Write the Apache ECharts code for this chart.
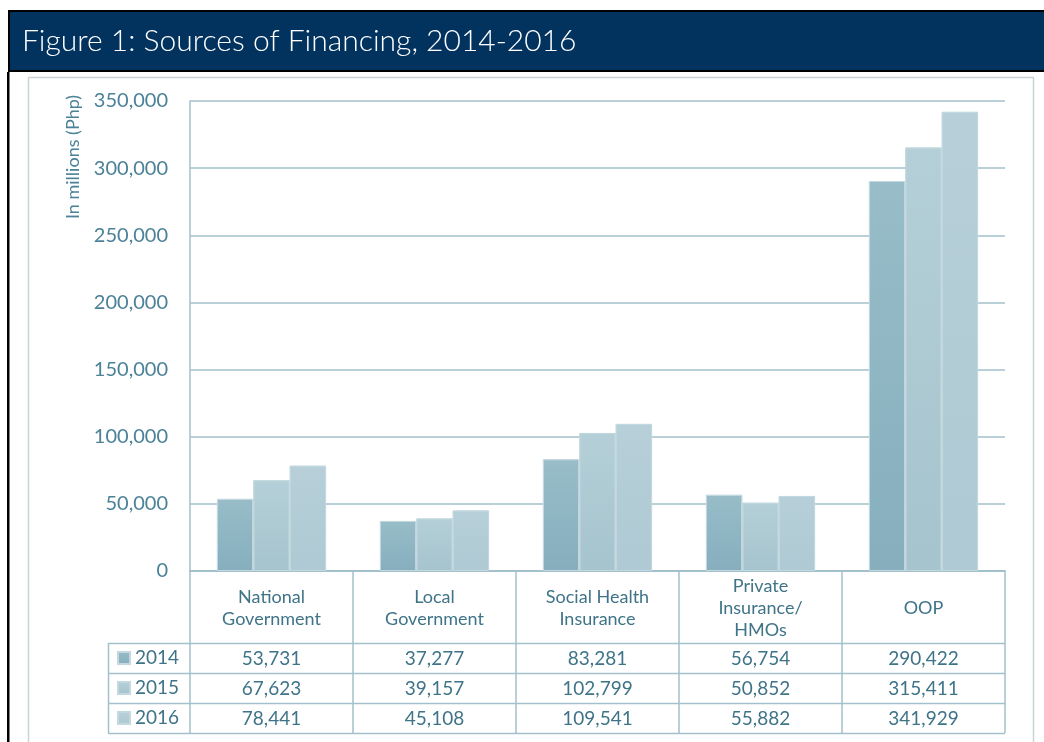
<!DOCTYPE html>
<html>
<head>
<meta charset="utf-8">
<title>Figure 1: Sources of Financing, 2014-2016</title>
<script src="https://cdn.jsdelivr.net/npm/echarts@6/dist/echarts.min.js"></script>
<style>
  html, body { margin: 0; padding: 0; background: #fff; }
  #chart { width: 1044px; height: 742px; }
</style>
</head>
<body>
<div id="chart"></div>
<script>
// data
const categories = ['National\nGovernment', 'Local\nGovernment', 'Social Health\nInsurance', 'Private\nInsurance/\nHMOs', 'OOP']
const years = ['2014', '2015', '2016']
const v2014 = [53731, 37277, 83281, 56754, 290422]
const v2015 = [67623, 39157, 102799, 50852, 315411]
const v2016 = [78441, 45108, 109541, 55882, 341929]
const yMax = 350000
const yStep = 50000

const FONT = 'Lato, "Noto Sans", sans-serif'
const TEAL = '#3f7488'
const LINE = '#a3c1cc'

const grad = (top, bottom) => new echarts.graphic.LinearGradient(0, 0, 0, 1, [
  { offset: 0, color: top },
  { offset: 1, color: bottom }
])
const colors = [
  grad('#98bdc9', '#86aebd'),
  grad('#b4cfd7', '#a6c4ce'),
  grad('#b6cfd8', '#afcad4')
]
const seriesData = [v2014, v2015, v2016]

const fmt = v => v.toLocaleString('en-US')

const chart = echarts.init(document.getElementById('chart'))

const option = {
  animation: false,
  textStyle: { fontFamily: FONT },
  grid: { left: 190, right: 39, top: 101, bottom: 171 },
  legend: {
    orient: 'vertical',
    left: 117,
    top: 643,
    height: 92,
    padding: 0,
    itemGap: 0,
    itemWidth: 12,
    itemHeight: 12,
    icon: 'rect',
    selectedMode: false,
    data: years,
    textStyle: { color: TEAL, fontSize: 19, lineHeight: 30, fontFamily: FONT }
  },
  xAxis: {
    type: 'category',
    data: categories,
    axisLine: { lineStyle: { color: LINE, width: 2 } },
    axisTick: { show: true, interval: 0, length: 162, lineStyle: { color: LINE, width: 1.5 } },
    axisLabel: {
      interval: 0,
      color: TEAL,
      fontSize: 18,
      lineHeight: 22,
      margin: 37,
      verticalAlign: 'middle',
      fontFamily: FONT
    },
    splitLine: { show: false }
  },
  yAxis: {
    type: 'value',
    min: 0,
    max: yMax,
    interval: yStep,
    axisLine: { show: true, lineStyle: { color: LINE, width: 1.5 } },
    axisTick: { show: false },
    axisLabel: { color: '#4b8298', fontSize: 20, margin: 22, formatter: v => fmt(v), fontFamily: FONT },
    splitLine: { lineStyle: { color: LINE, width: 1.5 } }
  },
  series: years.map((y, i) => ({
    name: y,
    type: 'bar',
    data: seriesData[i],
    barGap: '0%',
    barCategoryGap: '33%',
    itemStyle: { color: colors[i], borderColor: '#c3d8df', borderWidth: 1 }
  }))
}

chart.setOption(option)

// frame, header and data table
const rowTops = [643, 673, 703, 733]
const tableLeft = 108, tableRight = 1005
const g = []

g.push({ type: 'rect', shape: { x: 8, y: 10, width: 1036, height: 62 }, style: { fill: '#000' }, z: 10 })
g.push({ type: 'rect', shape: { x: 10, y: 12, width: 1034, height: 58 }, style: { fill: '#02335f' }, z: 11 })
g.push({ type: 'rect', shape: { x: 7, y: 72, width: 2.5, height: 670 }, style: { fill: '#000' }, z: 10 })
g.push({ type: 'text', x: 22, y: 41, style: { text: 'Figure 1: Sources of Financing, 2014-2016', fill: '#fff', fontSize: 30, fontWeight: 300, fontFamily: FONT, verticalAlign: 'middle' }, z: 12 })
// inner frame
g.push({ type: 'polyline', shape: { points: [[28.5, 742], [28.5, 77.5], [1033.5, 77.5], [1033.5, 742]] }, style: { stroke: '#c9d4d8', fill: null, lineWidth: 1.5 }, z: 5 })

g.push({ type: 'text', x: 73, y: 157, rotation: Math.PI / 2, style: { text: 'In millions (Php)', fill: '#4b8298', fontSize: 18, fontFamily: FONT, align: 'center', verticalAlign: 'middle' } })

rowTops.forEach(y => {
  g.push({ type: 'line', shape: { x1: tableLeft, y1: y + 0.5, x2: tableRight, y2: y + 0.5 }, style: { stroke: LINE, lineWidth: 1.5 } })
})
g.push({ type: 'line', shape: { x1: tableLeft + 0.5, y1: rowTops[0], x2: tableLeft + 0.5, y2: rowTops[3] }, style: { stroke: LINE, lineWidth: 1.5 } })

seriesData.forEach((vals, r) => {
  const cy = rowTops[r] + 16
  vals.forEach((v, c) => {
    const cx = chart.convertToPixel({ xAxisIndex: 0 }, c)
    g.push({ type: 'text', x: cx, y: cy, style: { text: fmt(v), fill: TEAL, fontSize: 19, fontFamily: FONT, align: 'center', verticalAlign: 'middle' } })
  })
})

chart.setOption({ graphic: g })

window.addEventListener('resize', () => chart.resize())
</script>
</body>
</html>
